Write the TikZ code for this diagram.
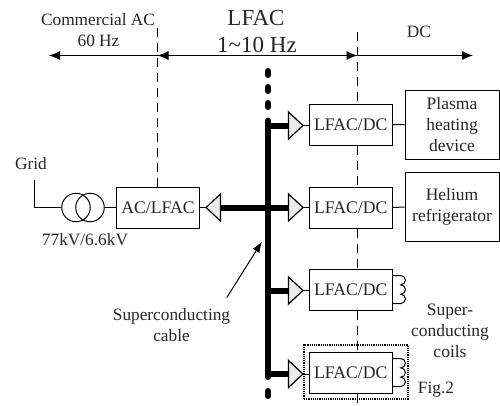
\documentclass[tikz,border=0pt]{standalone}
\usepackage{fontspec}
\setmainfont{Liberation Serif}
\usetikzlibrary{arrows.meta}
\tikzset{
 x=1pt,y=-1pt,
 lbl/.style={inner sep=0pt,align=center,font=\fontsize{17.3}{21}\selectfont,text=black!85},
 big/.style={inner sep=0pt,font=\fontsize{23}{25}\selectfont,text=black!85},
 conv/.style={draw=black,line width=1pt,minimum width=83pt,minimum height=41pt,inner sep=0pt,font=\fontsize{17.7}{20}\selectfont,text=black!85},
 load/.style={draw=black,line width=1pt,inner sep=0pt,align=center,font=\fontsize{17.5}{21}\selectfont,text=black!85},
 thin line/.style={line width=1pt},
 bound/.style={line width=1pt,dash pattern=on 9pt off 6pt},
 span/.style={line width=1pt,-{Latex[length=11pt,width=9pt]}},
 bus/.style={line width=6pt},
 gap/.style={line width=6pt,line cap=round,dash pattern=on 4pt off 12pt},
 tri/.style={draw=black,line width=1.2pt,fill=black!8,line join=miter},
}
\begin{document}
\begin{tikzpicture}
\useasboundingbox (0,0) rectangle (500,405);
% boundaries
\coordinate (bA) at (157.5,28);
\coordinate (bB) at (357.5,32);
\coordinate (bBe) at (357.5,405);
\coordinate (sL) at (49,55.5);
\coordinate (sA) at (157.5,55.5);
\coordinate (sB) at (357.5,55.5);
\coordinate (sR) at (473,55.5);
% converters
\node[conv] (acl) at (158,207.5) {AC/LFAC};
\node[conv] (c1) at (350.75,124.75) {LFAC/DC};
\node[conv] (c2) at (350.75,207.5) {LFAC/DC};
\node[conv] (c3) at (350.75,289.5) {LFAC/DC};
\node[conv] (c4) at (350.75,372.5) {LFAC/DC};
\draw[bound] (bA) -- (acl.north -| bA);
\draw[bound] (bB) -- (c1.north -| bB);
\draw[bound] (c1.south -| bB) -- (c2.north -| bB);
\draw[bound] (c2.south -| bB) -- (c3.north -| bB);
\draw[bound] (c3.south -| bB) -- (c4.north -| bB);
\draw[bound] (c4.south -| bB) -- (bBe);
\draw[span] (sA) -- (sL);
\draw[span] (sB) -- (sA);
\draw[span] (sA) -- (sB);
\draw[span] (sB) -- (sR);
% loads
\node[load,minimum width=94pt,minimum height=69pt] (pl) at (452,124.5) {Plasma\\heating\\device};
\node[load,minimum width=94pt,minimum height=69pt] (he) at (452,207) {Helium\\refrigerator};
\draw[thin line] (c1.east) -- (pl.west);
\draw[thin line] (c2.east) -- (he.west);
% bus
\coordinate (bt) at (268,120.5);
\coordinate (bb) at (268,377);
\draw[bus,line cap=round] (bt) -- (bb);
\draw[gap] (268,71) -- (268,108);
\draw[bus,line cap=round] (268,391) -- (268,396);
% taps
\foreach \c/\y in {c1/125.5,c2/207.5,c3/290.5,c4/374}{
 \draw[bus] (268,\y) -- (290,\y);
 \draw[tri] (288.5,\y-13.5) -- (303,\y) -- (288.5,\y+13.5) -- cycle;
 \draw[thin line] (303,\y) -- (\c.west |- 0,\y);
}
% AC side
\draw[bus] (268,207.5) -- (218,207.5);
\draw[tri] (220.5,194) -- (206,207.5) -- (220.5,221) -- cycle;
\draw[thin line] (206,207.5) -- (acl.east);
% transformer
\node[circle,draw=black,line width=1pt,minimum size=28.5pt,inner sep=0pt] (t1) at (76,207.5) {};
\node[circle,draw=black,line width=1pt,minimum size=28.5pt,inner sep=0pt] (t2) at (90,207.5) {};
\coordinate (g) at (34,180);
\draw[thin line] (g) |- (t1.west);
\draw[thin line] (t2.east) -- (acl.west);
% coils
\foreach \c in {c3,c4}{
 \draw[thin line] ([yshift=14pt]\c.east) -- ++(8,0)
  arc[start angle=90,end angle=-90,radius=4.67pt]
  arc[start angle=90,end angle=-90,radius=4.67pt]
  arc[start angle=90,end angle=-90,radius=4.67pt] -- ++(-8,0);
}
% dotted frame
\node[draw=black,line width=1.2pt,densely dotted,minimum width=104pt,minimum height=54pt,inner sep=0pt] (fr) at (356,372) {};
% labels
\node[lbl] (t_ca) at (98,19.5) {Commercial AC};
\node[lbl] (t_60) at (98.5,41) {60 Hz};
\node[big] (t_lf) at (256,18) {LFAC};
\node[big] (t_hz) at (257,44.5) {1\textasciitilde10 Hz};
\node[lbl] (t_dc) at (419,31.5) {DC};
\node[lbl] (t_gr) at (31,164) {Grid};
\node[lbl] (t_kv) at (85,240) {77kV/6.6kV};
\node[lbl] (t_sc) at (171.5,325) {Superconducting\\cable};
\node[load,draw=none] (t_co) at (450,330.5) {Super-\\conducting\\coils};
\node[lbl] (t_fg) at (436,390) {Fig.2};
% pointer
\coordinate (p0) at (226.7,297.7);
\coordinate (p1) at (262,241.5);
\draw[line width=1pt,-{Latex[length=11pt,width=8pt]}] (p0) -- (p1);
\end{tikzpicture}
\end{document}
